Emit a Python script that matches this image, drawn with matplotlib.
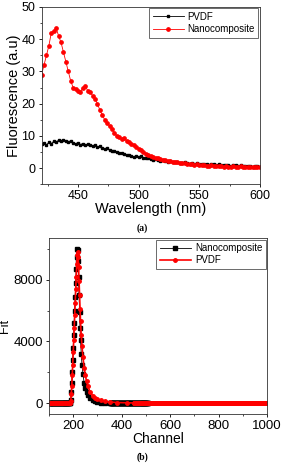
import matplotlib
matplotlib.use("Agg")
import matplotlib.pyplot as plt
import numpy as np
from matplotlib.ticker import AutoMinorLocator

plt.rcParams['font.family'] = ['Liberation Sans', 'DejaVu Sans']

# ---- panel (a): fluorescence spectra ----
wavelength = np.arange(420, 601, 2)
pvdf_fl = [7.5, 7.8, 7.2, 8.0, 7.6, 8.3, 8.1, 8.6, 8.4, 8.8, 8.5, 8.2, 8.4, 7.9, 7.6,
           7.8, 7.3, 7.6, 7.1, 7.5, 7.2, 6.8, 7.0, 6.5, 6.8, 6.2, 5.9, 6.1, 5.5, 5.2,
           5.4, 4.9, 4.6, 4.8, 4.3, 4.0, 4.2, 3.8, 3.5, 3.7, 3.4, 3.6, 3.2, 3.0, 3.2,
           2.9, 2.6, 2.8, 2.5, 2.3, 2.5, 2.2, 2.0, 2.2, 1.9, 1.8, 2.0, 1.7, 1.6, 1.8,
           1.5, 1.4, 1.6, 1.3, 1.5, 1.2, 1.4, 1.1, 1.3, 1.0, 1.2, 1.1, 0.9, 1.1, 1.0,
           0.8, 1.0, 0.9, 0.7, 0.9, 0.8, 0.6, 0.8, 0.7, 0.5, 0.7, 0.6, 0.4, 0.6, 0.5, 0.4]
nano_fl = [29, 32, 35, 38, 42, 42.5, 43.5, 41, 39, 36, 33, 30, 27, 25, 24.5,
           24, 23.5, 25, 25.5, 24, 23.5, 22.5, 21.5, 20, 18, 16.5, 15, 14, 13, 12,
           11, 10, 9.5, 9, 9.2, 8.5, 8, 7.5, 7, 6.5, 6, 5.5, 5, 4.5, 4,
           3.8, 3.4, 3.2, 3.0, 2.8, 2.6, 2.4, 2.2, 2.1, 2.0, 1.9, 1.8, 1.7, 1.6, 1.5,
           1.3, 1.2, 1.1, 1.0, 1.2, 0.9, 0.8, 1.0, 0.7, 0.6, 0.8, 0.6, 0.5, 0.7, 0.5,
           0.4, 0.6, 0.4, 0.3, 0.5, 0.4, 0.3, 0.5, 0.2, 0.4, 0.3, 0.2, 0.4, 0.3, 0.2, 0.3]

# ---- panel (b): fit curves vs channel ----
nano_ch = [188, 190, 192, 194, 196, 198, 200, 202, 204, 206, 208, 210, 212, 214, 216,
           218, 220, 222, 224, 226, 228, 230, 233, 236, 240, 245, 250, 255, 260, 270,
           280, 290, 300, 315, 330, 350]
nano_fit = [0, 200, 700, 1300, 2000, 2800, 3600, 4400, 5200, 6000, 6900, 7800, 8700, 9500, 10000,
            9900, 9200, 8200, 7000, 5900, 4900, 4100, 3200, 2500, 1900, 1300, 950, 700, 500, 300,
            180, 110, 70, 35, 15, 5]
pvdf_ch = [188, 190, 192, 194, 196, 198, 200, 202, 204, 206, 208, 210, 212, 214, 216,
           218, 220, 222, 224, 226, 228, 230, 233, 236, 240, 245, 250, 255, 260, 270,
           280, 290, 300, 315, 330, 350, 380, 420, 450]
pvdf_fit = [0, 150, 600, 1100, 1800, 2500, 3300, 4100, 4900, 5700, 6500, 7400, 8200, 9000, 9600,
            9800, 9500, 8800, 7900, 7000, 6100, 5300, 4400, 3700, 3000, 2300, 1800, 1400, 1100, 700,
            480, 340, 250, 170, 110, 70, 35, 15, 5]
lead_ch = np.arange(100, 188, 2)
nano_tail_ch = np.arange(352, 512, 2)
pvdf_tail_ch = np.arange(452, 1001, 2)

nano_x = np.concatenate([lead_ch, nano_ch, nano_tail_ch])
nano_y = np.concatenate([np.zeros(len(lead_ch)), nano_fit, np.zeros(len(nano_tail_ch))])
pvdf_x = np.concatenate([lead_ch, pvdf_ch, pvdf_tail_ch])
pvdf_y = np.concatenate([np.zeros(len(lead_ch)), pvdf_fit, np.zeros(len(pvdf_tail_ch))])

fig = plt.figure(figsize=(2.85, 4.65), dpi=100)
ax1 = fig.add_axes([0.146, 0.604, 0.766, 0.381])
ax2 = fig.add_axes([0.172, 0.110, 0.765, 0.378])

ax1.plot(wavelength, pvdf_fl, '-s', color='black', ms=2, lw=0.6, label='PVDF')
ax1.plot(wavelength, nano_fl, '-o', color='red', ms=2.4, lw=0.6, label='Nanocomposite')
ax1.set_xlim(420, 600)
ax1.set_ylim(-5, 50)
ax1.set_xticks([450, 500, 550, 600])
ax1.set_yticks([0, 10, 20, 30, 40, 50])
ax1.xaxis.set_minor_locator(AutoMinorLocator(2))
ax1.yaxis.set_minor_locator(AutoMinorLocator(2))
ax1.tick_params(labelsize=9, length=2.5, width=0.6, pad=2)
ax1.tick_params(which='minor', length=1.5, width=0.5)
ax1.set_xlabel('Wavelength (nm)', fontsize=10.5, labelpad=0)
ax1.set_ylabel('Fluorescence (a.u)', fontsize=10.5, labelpad=0)
leg1 = ax1.legend(loc='upper right', fontsize=7, frameon=True, fancybox=False,
                  edgecolor='#444444', handlelength=3.2, borderpad=0.35, labelspacing=0.25,
                  handletextpad=0.4, borderaxespad=0.15)
leg1.get_frame().set_linewidth(0.7)

ax2.plot(nano_x, nano_y, '-s', color='black', ms=2.2, lw=0.6, label='Nanocomposite')
ax2.plot(pvdf_x, pvdf_y, '-o', color='red', ms=2.5, lw=1.2, label='PVDF')
ax2.set_xlim(100, 1000)
ax2.set_ylim(-700, 10700)
ax2.set_xticks([200, 400, 600, 800, 1000])
ax2.set_yticks([0, 4000, 8000])
ax2.xaxis.set_minor_locator(AutoMinorLocator(2))
ax2.yaxis.set_minor_locator(AutoMinorLocator(2))
ax2.tick_params(labelsize=9.5, length=2.5, width=0.6, pad=2)
ax2.tick_params(which='minor', length=1.5, width=0.5)
ax2.set_xlabel('Channel', fontsize=10, labelpad=0)
ax2.set_ylabel('Fit', fontsize=9)
ax2.yaxis.set_label_coords(-0.175, 0.5)
leg2 = ax2.legend(loc='upper right', fontsize=7, frameon=True, fancybox=False,
                  edgecolor='#444444', handlelength=3.2, borderpad=0.35, labelspacing=0.25,
                  handletextpad=0.4, borderaxespad=0.15)
leg2.get_frame().set_linewidth(0.7)

for ax in (ax1, ax2):
    for s in ax.spines.values():
        s.set_linewidth(0.6)
        s.set_color('#333333')

fig.text(0.5, 0.510, '(a)', ha='center', va='center', fontsize=7, fontweight='bold',
         family='Liberation Serif')
fig.text(0.5, 0.017, '(b)', ha='center', va='center', fontsize=7, fontweight='bold',
         family='Liberation Serif')

fig.savefig('out.png', dpi=100)
